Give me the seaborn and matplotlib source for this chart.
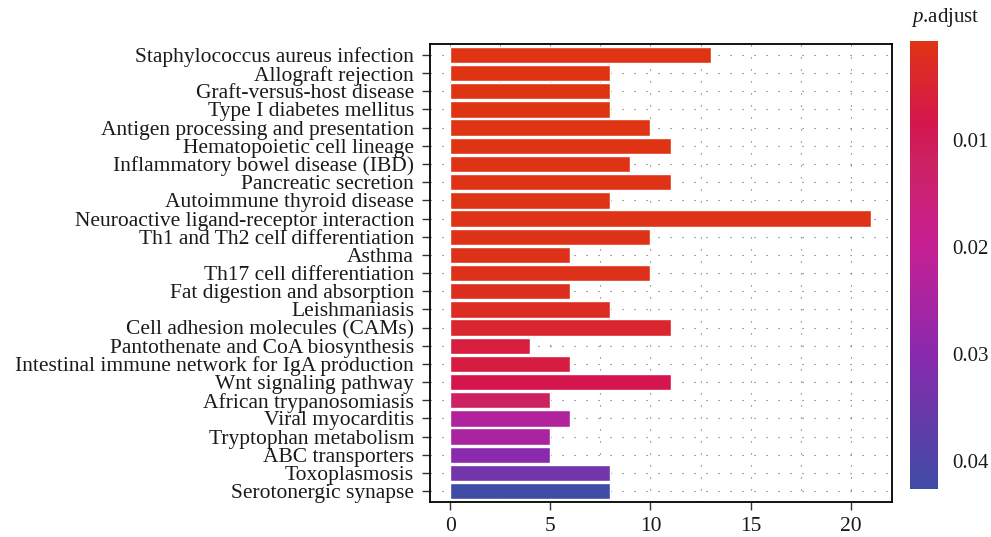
import matplotlib
matplotlib.use("Agg")
import matplotlib.pyplot as plt
import seaborn as sns
import pandas as pd
from matplotlib.colors import LinearSegmentedColormap, Normalize
from matplotlib.ticker import MultipleLocator
import matplotlib.cm as cm

sns.set_style("white")
plt.rcParams['font.family'] = ['Liberation Serif', 'DejaVu Serif']
plt.rcParams['mathtext.fontset'] = 'custom'
plt.rcParams['mathtext.it'] = 'Liberation Serif:italic'
plt.rcParams['mathtext.rm'] = 'Liberation Serif'

pathways = [
    'Staphylococcus aureus infection', 'Allograft rejection', 'Graft-versus-host disease',
    'Type I diabetes mellitus', 'Antigen processing and presentation',
    'Hematopoietic cell lineage', 'Inflammatory bowel disease (IBD)',
    'Pancreatic secretion', 'Autoimmune thyroid disease',
    'Neuroactive ligand-receptor interaction', 'Th1 and Th2 cell differentiation',
    'Asthma', 'Th17 cell differentiation', 'Fat digestion and absorption',
    'Leishmaniasis', 'Cell adhesion molecules (CAMs)',
    'Pantothenate and CoA biosynthesis', 'Intestinal immune network for IgA production',
    'Wnt signaling pathway', 'African trypanosomiasis', 'Viral myocarditis',
    'Tryptophan metabolism', 'ABC transporters', 'Toxoplasmosis', 'Serotonergic synapse',
]
counts = [13, 8, 8, 8, 10, 11, 9, 11, 8, 21, 10, 6, 10, 6, 8, 11, 4, 6, 11, 5, 6, 5, 5, 8, 8]
p_adjust = [0.0008, 0.0008, 0.0008, 0.0008, 0.0009, 0.0009, 0.0010, 0.0010, 0.0011,
            0.0012, 0.0014, 0.0015, 0.0016, 0.0024, 0.0026, 0.0045, 0.0065, 0.0070,
            0.0085, 0.0120, 0.0235, 0.0245, 0.0300, 0.0340, 0.0426]
cbar_ticks = [0.01, 0.02, 0.03, 0.04]

df = pd.DataFrame({'Description': pathways, 'Count': counts, 'p.adjust': p_adjust})

vmin, vmax = min(p_adjust), max(p_adjust)
def pos(p):
    return (p - vmin) / (vmax - vmin)
cmap = LinearSegmentedColormap.from_list('padj', [
    (0.0, '#de3414'),
    (pos(0.0085), '#d5164e'),
    (pos(0.012), '#cc2262'),
    (pos(0.02), '#c61f94'),
    (pos(0.03), '#8a2aad'),
    (1.0, '#3f4ba5'),
])
norm = Normalize(vmin=vmin, vmax=vmax)
colors = [cmap(norm(p)) for p in p_adjust]

fig = plt.figure(figsize=(9.91, 5.37), dpi=100)
ax = fig.add_axes([0.434, 0.065, 0.466, 0.853])

sns.barplot(data=df, x='Count', y='Description', hue='Description', palette=colors,
            legend=False, orient='h', width=0.9, saturation=1, ax=ax, zorder=3)

ax.set_xlim(-1.0, 22.05)
ax.set_ylim(len(pathways) - 0.4, -0.6)
ax.xaxis.set_major_locator(MultipleLocator(5))
ax.xaxis.set_minor_locator(MultipleLocator(2.5))
ax.set_axisbelow(True)
grid_kw = dict(color='#666666', linewidth=0.8, linestyle=(0, (1, 9.8)))
ax.grid(True, which='major', axis='both', **grid_kw)
ax.grid(True, which='minor', axis='x', **grid_kw)
ax.set_xlabel('')
ax.set_ylabel('')
for s in ax.spines.values():
    s.set_visible(True)
    s.set_color('black')
    s.set_linewidth(1.3)
ax.tick_params(axis='both', which='major', length=5.5, width=1, color='#333333',
               labelsize=15.5, labelcolor='#1a1a1a', left=True, bottom=True)
ax.tick_params(axis='y', which='major', pad=6)
ax.tick_params(axis='x', which='major', pad=5)
ax.tick_params(axis='x', which='minor', length=0)

cax = fig.add_axes([0.918, 0.089, 0.029, 0.835])
sm = cm.ScalarMappable(norm=norm, cmap=cmap)
cbar = fig.colorbar(sm, cax=cax, ticks=cbar_ticks)
cbar.outline.set_visible(False)
cax.invert_yaxis()
cax.tick_params(direction='in', color='white', length=6, width=1, left=True, right=True,
                labelsize=15, labelcolor='#1a1a1a', pad=10)
cax.set_yticklabels(['0.01', '0.02', '0.03', '0.04'])

fig.text(0.919, 0.968, r'$\it{p}$.adjust', fontsize=15, ha='left', va='center',
         color='#1a1a1a')

fig.savefig('out.png', dpi=100)
